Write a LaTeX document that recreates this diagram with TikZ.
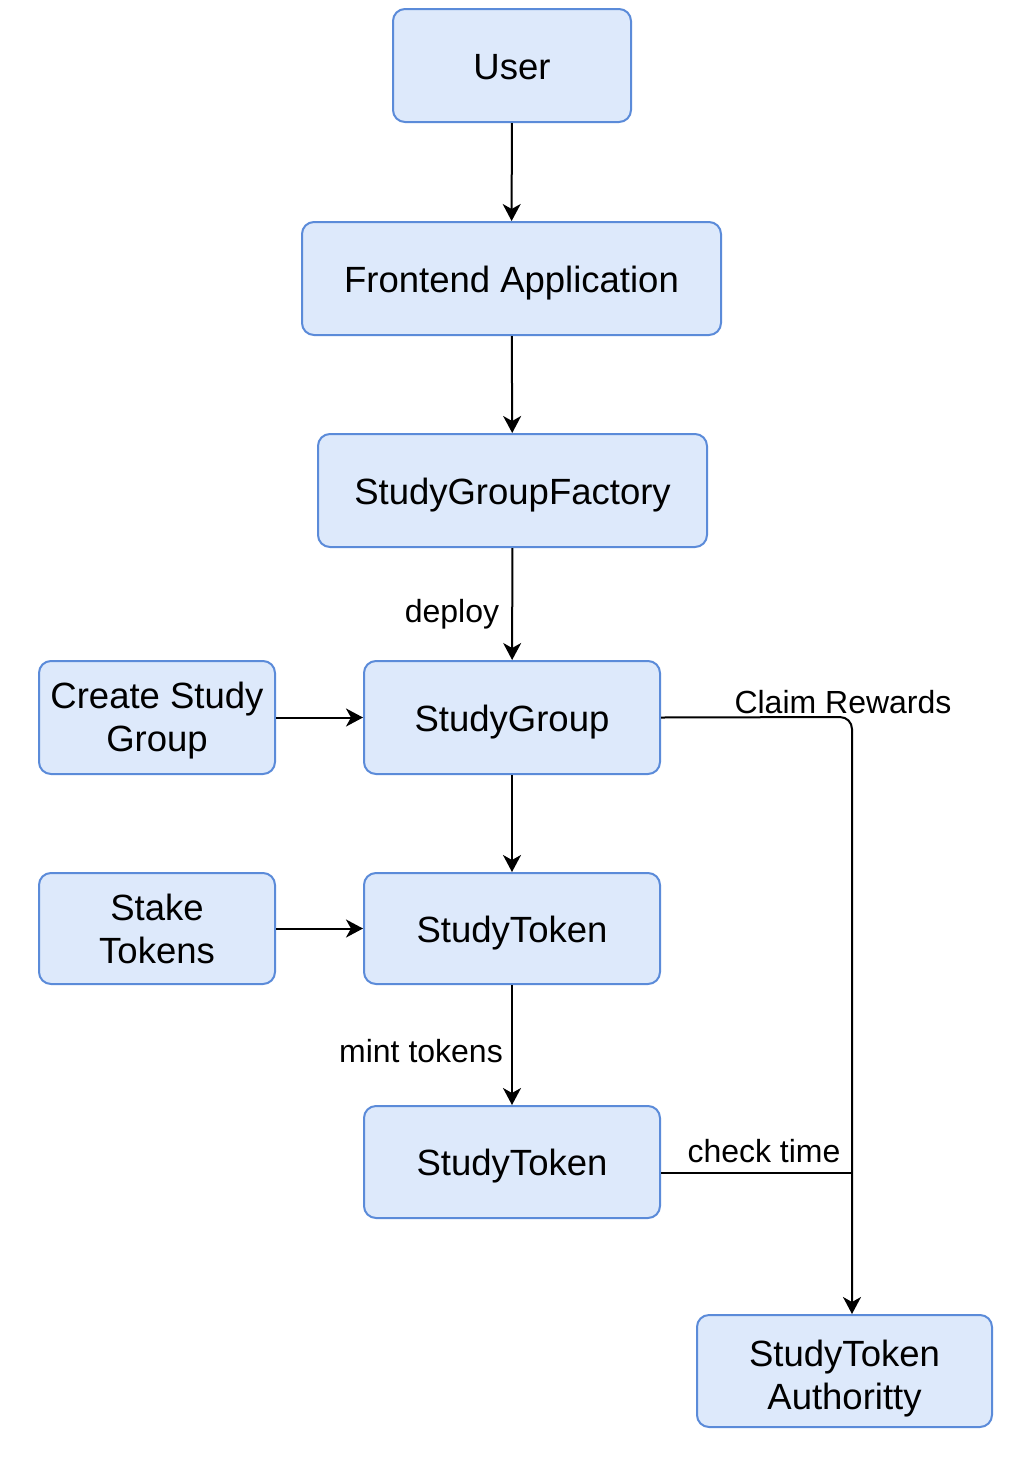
\documentclass[tikz,border=0pt]{standalone}
\usepackage{fontspec}
\setmainfont{Liberation Sans}
\usetikzlibrary{arrows.meta}
\definecolor{boxfill}{HTML}{DDE9FB}
\definecolor{boxline}{HTML}{5B8BD9}
\tikzset{
  box/.style={draw=boxline, fill=boxfill, line width=2pt, rounded corners=12pt,
    align=center, inner sep=0pt, font=\fontsize{36.5}{43}\selectfont},
  oneline/.style={box, text height=27pt, text depth=0pt},
  conn/.style={line width=2pt, -{Stealth[length=17pt,width=18pt,inset=5pt]}},
  plain/.style={line width=2pt},
  lbl/.style={font=\fontsize{32}{36}\selectfont, inner sep=0pt}
}
\begin{document}
\begin{tikzpicture}[x=1pt,y=-1pt]
\useasboundingbox (0,0) rectangle (1024,1467);
\node[oneline, minimum width=238pt, minimum height=113pt] (user) at (512,65.5) {User};
\node[oneline, minimum width=419pt, minimum height=113pt] (fe) at (511.5,278.5) {Frontend Application};
\node[oneline, minimum width=389pt, minimum height=113pt] (fac) at (512.5,490.5) {StudyGroupFactory};
\node[oneline, minimum width=296pt, minimum height=113pt] (sg) at (512,717.5) {StudyGroup};
\node[box, minimum width=236pt, minimum height=113pt] (cs) at (157,717.5) {\rule{0pt}{32pt}Create Study\\Group};
\node[oneline, minimum width=296pt, minimum height=111pt] (st1) at (512,928.5) {StudyToken};
\node[box, minimum width=236pt, minimum height=111pt] (stake) at (157,928.5) {Stake\\Tokens};
\node[oneline, minimum width=296pt, minimum height=112pt] (st2) at (512,1162) {StudyToken};
\node[box, minimum width=295pt, minimum height=112pt] (auth) at (844.5,1371) {\rule{0pt}{41pt}StudyToken\\Authoritty};

\coordinate (corner) at (852,717);
\coordinate (j) at (852,1173);

\draw[conn] (user) -- (fe);
\draw[conn] (fe) -- (fac);
\draw[conn] (fac) -- (sg);
\draw[conn] (cs) -- (sg);
\draw[conn] (sg) -- (st1);
\draw[conn] (stake) -- (st1);
\draw[conn] (st1) -- (st2);
\draw[conn, rounded corners=12pt] (sg.east) -- (corner) -- (auth.north -| corner);
\draw[plain] ([yshift=-11pt]st2.east) -- (j);

\node[lbl] (ldeploy) at (452,614) {deploy};
\node[lbl] (lmint) at (421,1051) {mint tokens};
\node[lbl] (lclaim) at (843,702) {Claim Rewards};
\node[lbl] (lcheck) at (764,1151) {check time};
\end{tikzpicture}
\end{document}
